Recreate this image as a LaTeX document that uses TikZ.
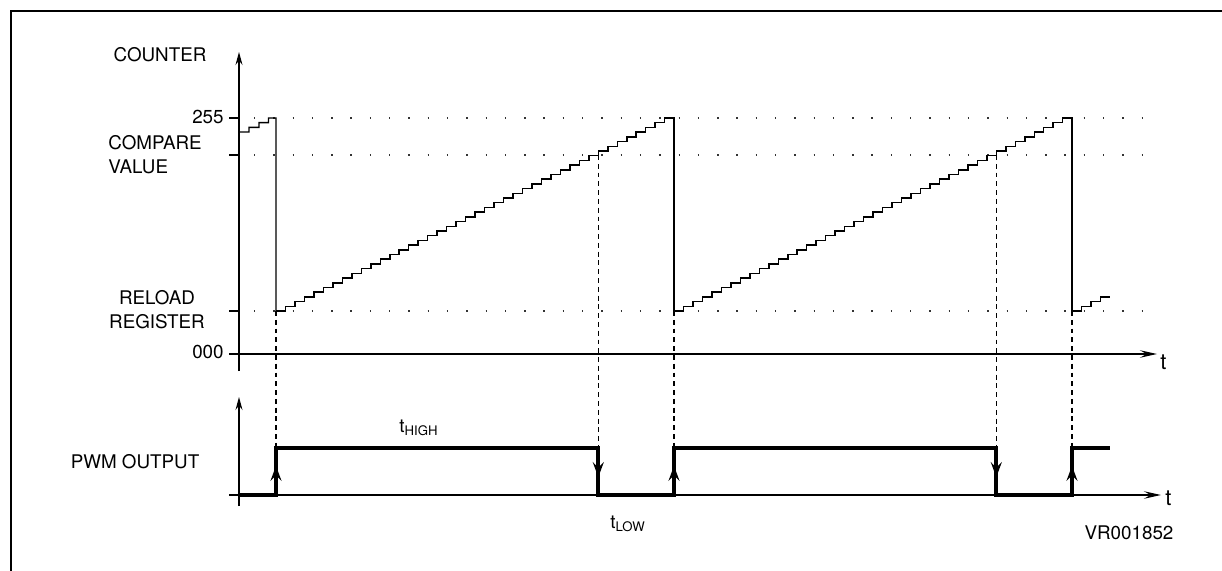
\documentclass[tikz,border=0pt]{standalone}
\usepackage{fontspec}
\setmainfont{TeX Gyre Heros}
\usetikzlibrary{arrows.meta,decorations.markings}

\begin{document}
\begin{tikzpicture}[x=0.2mm, y=-0.2mm,
    lbl/.style={font=\fontsize{10.7}{13.6}\selectfont, inner sep=0pt},
    tlbl/.style={font=\fontsize{12.5}{14}\selectfont, inner sep=0pt, anchor=west},
    axis/.style={line width=0.7pt, -{Stealth[length=2.6mm,width=1.4mm,inset=0.9mm]}},
    taxis/.style={line width=0.7pt, -{Stealth[length=3.4mm,width=1.5mm,inset=1.3mm]}},
    guide/.style={line width=0.8pt, black!80, dash pattern=on 0.8pt off 10.18pt},
    drop/.style={line width=0.6pt, dash pattern=on 2.8pt off 2.2pt},
    counter/.style={line width=0.85pt},
    pwm/.style={line width=2.2pt},
    rise/.style={pwm, postaction={decorate}, decoration={markings,
      mark=at position 0.62 with {\arrow{Stealth[length=3mm,width=2.2mm,inset=1.1mm]}}}},
  ]
%
    \useasboundingbox (0,0) rectangle (1222,571);
    \draw[line width=1.7pt] (11,571) -- (11,11) -- (1222,11);
%
    % counter axes
    \coordinate (cbot) at (239,371);
    \coordinate (ctop) at (239,52);
    \coordinate (cleft) at (229,354);
    \coordinate (cright) at (1157,354);
    \draw[axis] (cbot) -- (ctop);
    \draw[taxis] (cleft) -- (cright);
    \node[tlbl] (tcnt) at (1160,362) {t};
%
    \foreach \y in {118,155,311}
      \draw[counter] (229,\y) -- (239,\y);
    \draw[guide] (254,118) -- (1155,118);
    \draw[guide] (254,155) -- (1155,155);
    \draw[guide] (254,311) -- (1155,311);
%
    \node[lbl] (counterlbl) at (160,55) {COUNTER};
    \node[lbl, anchor=east] (toplbl) at (224,117) {255};
    \node[lbl, anchor=west, align=left] (cmplbl) at (108,155) {COMPARE\\VALUE};
    \node[lbl, align=center] (rldlbl) at (157,310) {RELOAD\\REGISTER};
    \node[lbl, anchor=east] (zerolbl) at (224,352) {000};
%
    % counter staircase
    \draw[counter] (239,132) -- ++(10,0) -- ++(0,-4.7) -- ++(10,0) -- ++(0,-4.7)
      -- ++(9.5,0) -- ++(0,-4.6) -- (276,118) -- (276,311);
    \foreach \s in {276,674}
      \draw[counter] (\s,311) \foreach \i in {1,...,41} { -- ++(9.48,0) -- ++(0,-4.707) }
        -- ++(9.48,0) -- ++(0,193);
    \draw[counter] (1072,311) \foreach \i in {1,2,3} { -- ++(9.48,0) -- ++(0,-4.707) }
      -- ++(9.5,0);
%
    \foreach \x/\y in {276/311, 598.3/155, 674/311, 996.3/155, 1072/311}
      \draw[drop] (\x,\y) -- (\x,448);
%
    % pwm axes
    \coordinate (pbot) at (239,506);
    \coordinate (ptop) at (239,397);
    \coordinate (pleft) at (229,495);
    \coordinate (pright) at (1161,495);
    \draw[axis] (pbot) -- (ptop);
    \draw[taxis] (pleft) -- (pright);
    \node[tlbl] (tpwm) at (1165,498) {t};
%
    \draw[pwm] (239,495) -- (276,495) -- (276,448) -- (598.3,448) -- (598.3,495)
      -- (674,495) -- (674,448) -- (996.3,448) -- (996.3,495) -- (1072,495)
      -- (1072,448) -- (1110,448);
    \foreach \x in {276,674,1072}
      \draw[rise] (\x,495) -- (\x,448);
    \foreach \x in {598.3,996.3}
      \draw[rise] (\x,448) -- (\x,495);
%
    \node[lbl] (pwmlbl) at (135,462) {PWM OUTPUT};
    \node[lbl] (thigh) at (419,428) {t\textsubscript{HIGH}};
    \node[lbl] (tlow) at (628,524) {t\textsubscript{LOW}};
    \node[lbl] (vrlbl) at (1129,533) {VR001852};
  \end{tikzpicture}
\end{document}
